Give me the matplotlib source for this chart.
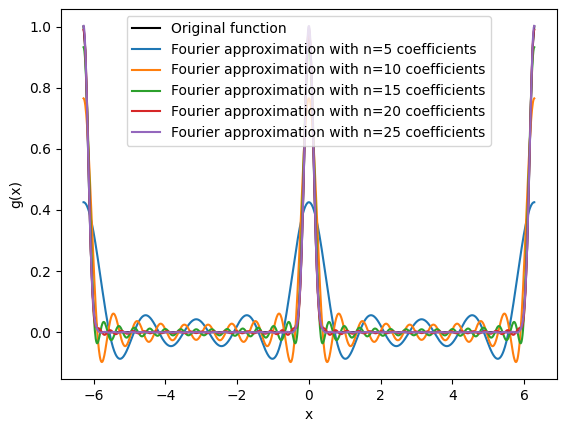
import numpy as np
import matplotlib
matplotlib.use("Agg")
import matplotlib.pyplot as plt

# cosine coefficients of g(x) (k = 0..24)
coef = [0.0497, 0.0986, 0.0964, 0.0928, 0.0879, 0.0820, 0.0753, 0.0682,
        0.0608, 0.0533, 0.0461, 0.0392, 0.0329, 0.0271, 0.0220, 0.0176,
        0.0139, 0.0108, 0.0082, 0.0062, 0.0046, 0.0033, 0.0024, 0.0017,
        0.0012]
n_values = [5, 10, 15, 20, 25]

# original function: peak profile around 0 and +-2pi
peak_dx = [-0.5, -0.4, -0.3, -0.25, -0.2, -0.15, -0.1, -0.05, 0.0,
           0.05, 0.1, 0.15, 0.2, 0.25, 0.3, 0.4, 0.5]
peak_y = [0.0003, 0.0055, 0.053, 0.131, 0.272, 0.481, 0.722, 0.922, 1.0,
          0.922, 0.722, 0.481, 0.272, 0.131, 0.053, 0.0055, 0.0003]

x = np.linspace(-2 * np.pi, 2 * np.pi, 1000)

fig = plt.figure(figsize=(5.67, 4.32), dpi=100)
ax = fig.add_subplot(111)
fig.subplots_adjust(left=0.1076, right=0.982, top=0.979, bottom=0.123)

# original function pieces
dx = np.array(peak_dx)
py = np.array(peak_y)
ox = np.concatenate([[-2 * np.pi], -2 * np.pi + dx[dx > 0], dx, 2 * np.pi + dx[dx < 0], [2 * np.pi]])
oy = np.concatenate([[1.0], py[dx > 0], py, py[dx < 0], [1.0]])
ax.plot(ox, oy, color="black", label="Original function")

for n in n_values:
    y = np.full_like(x, coef[0])
    for k in range(1, n):
        y += coef[k] * np.cos(k * x)
    ax.plot(x, y, label="Fourier approximation with n=%d coefficients" % n)

ax.set_xlabel("x")
ax.set_ylabel("g(x)")
ax.legend(loc="upper center")

fig.savefig("out.png", dpi=100)
